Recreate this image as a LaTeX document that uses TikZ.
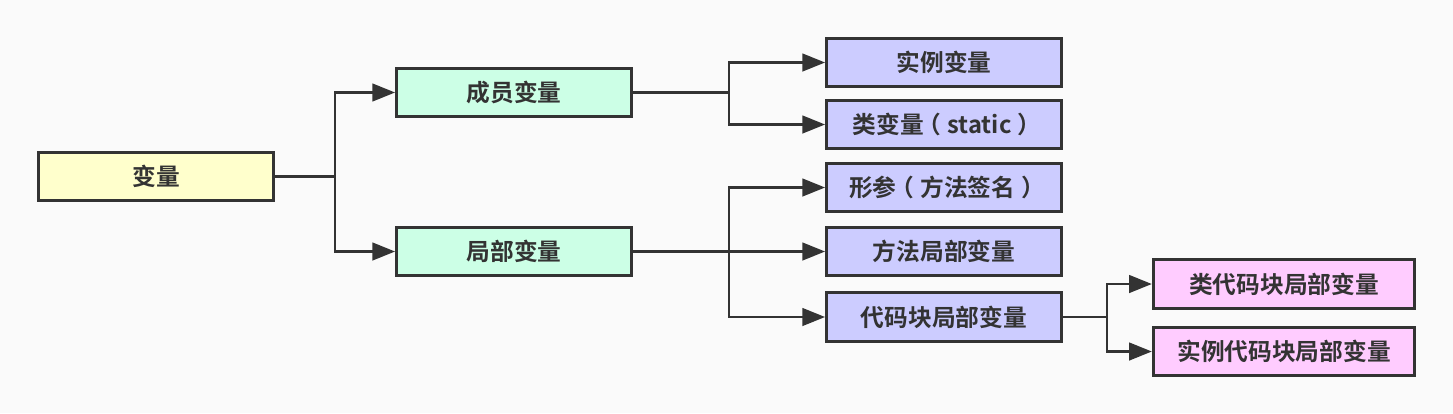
\documentclass[tikz,border=0pt]{standalone}
\usepackage{fontspec}
\setmainfont{Noto Sans CJK SC}
\newfontfamily\cjkbold{Noto Sans CJK SC Bold}
\usetikzlibrary{positioning,arrows.meta}
\definecolor{palBg}{HTML}{FAFAFA}
\definecolor{palLine}{HTML}{333333}
\definecolor{palYellowLt}{HTML}{FFFFCC}
\definecolor{palGreenLt}{HTML}{CCFFE6}
\definecolor{palPurpleLt}{HTML}{CCCCFF}
\definecolor{palPinkLt}{HTML}{FFCCFF}
\newcommand{\lpar}{\kern-0.25em（\kern0.25em}
\newcommand{\rpar}{\kern0.25em）\kern-0.25em}
\tikzset{
  varnode/.style={draw=palLine, line width=1.6pt, minimum width=4.7cm,
                  minimum height=0.97cm, inner sep=2pt,
                  font=\cjkbold\fontsize{13.5}{16}\selectfont, text=palLine},
  widenode/.style={varnode, minimum width=5.23cm},
  plainline/.style={draw=palLine, line width=1.6pt},
  stdarrow/.style={plainline, -{Triangle[length=13pt, width=10pt]}},
}
\begin{document}
\begin{tikzpicture}[x=0.02cm, y=-0.02cm]
\def\xRoot{156}    % x-position for root column
\def\xMid{514}     % x-position for second column
\def\xLeaf{944}    % x-position for third column
\def\xBlock{1284}  % x-position for fourth column

%% Background
\fill[palBg] (0,0) rectangle (1453,413);
\useasboundingbox (0,0) rectangle (1453,413);

%% Nodes
\node[varnode, fill=palYellowLt] (var) at (\xRoot, 176.5) {变量};
\node[varnode, fill=palGreenLt] (member) at (\xMid, 92.5) {成员变量};
\node[varnode, fill=palGreenLt] (local) at (\xMid, 251.5) {局部变量};
\node[varnode, fill=palPurpleLt] (inst) at (\xLeaf, 62.5) {实例变量};
\node[varnode, fill=palPurpleLt] (cls) at (\xLeaf, 124.5) {类变量\lpar static\rpar};
\node[varnode, fill=palPurpleLt] (param) at (\xLeaf, 187.5) {形参\lpar 方法签名\rpar};
\node[varnode, fill=palPurpleLt] (mlocal) at (\xLeaf, 251.5) {方法局部变量};
\node[varnode, fill=palPurpleLt] (blocal) at (\xLeaf, 317) {代码块局部变量};
\node[widenode, fill=palPinkLt] (cblock) at (\xBlock, 284) {类代码块局部变量};
\node[widenode, fill=palPinkLt] (iblock) at (\xBlock, 351.5) {实例代码块局部变量};

%% Junctions
\coordinate (jvar) at (335, 176.5);
\coordinate (jmember) at (729, 92.5);
\coordinate (jlocal) at (729, 251.5);
\coordinate (jblock) at (1107, 317);

%% Connectors
\draw[plainline] (var) -- (jvar);
\draw[stdarrow] (jvar) |- (member);
\draw[stdarrow] (jvar) |- (local);
\draw[plainline] (member) -- (jmember);
\draw[stdarrow] (jmember) |- (inst);
\draw[stdarrow] (jmember) |- (cls);
\draw[plainline] (local) -- (jlocal);
\draw[stdarrow] (jlocal) |- (param);
\draw[stdarrow] (jlocal) |- (mlocal);
\draw[stdarrow] (jlocal) |- (blocal);
\draw[plainline] (blocal) -- (jblock);
\draw[stdarrow] (jblock) |- (cblock);
\draw[stdarrow] (jblock) |- (iblock);
\end{tikzpicture}
\end{document}
